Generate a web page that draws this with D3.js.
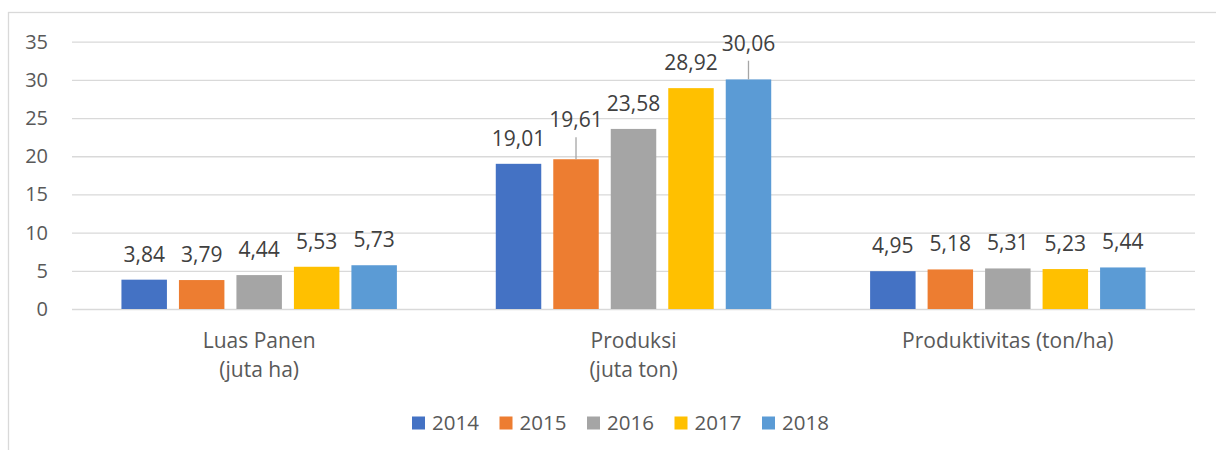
<!DOCTYPE html>
<html><head><meta charset="utf-8">
<script src="https://cdn.jsdelivr.net/npm/d3@7"></script>
<style>
html,body{margin:0;padding:0;background:#fff;}
svg{display:block;font-family:"Open Sans",sans-serif;}
</style></head>
<body><svg id="c" width="1216" height="450"></svg>
<script>
// ---- data ----
const categories = ["Luas Panen", "Produksi", "Produktivitas"];
const categoryLines = [["Luas Panen", "(juta ha)"], ["Produksi", "(juta ton)"], ["Produktivitas (ton/ha)"]];
const years = ["2014", "2015", "2016", "2017", "2018"];
const v2014 = [3.84, 19.01, 4.95];
const v2015 = [3.79, 19.61, 5.18];
const v2016 = [4.44, 23.58, 5.31];
const v2017 = [5.53, 28.92, 5.23];
const v2018 = [5.73, 30.06, 5.44];
const yTicks = [0, 5, 10, 15, 20, 25, 30, 35];

const seriesValues = [v2014, v2015, v2016, v2017, v2018];
const colors = ["#4472C4", "#ED7D31", "#A5A5A5", "#FFC000", "#5B9BD5"];
// labels pulled up with leader lines (series index, category index, extra lift px)
const leaderLabels = [{s: 1, c: 1, lift: 14}, {s: 4, c: 1, lift: 10.7}];

const svg = d3.select("#c");
const fmt = d3.formatLocale({decimal: ",", thousands: ".", grouping: [3], currency: ["", ""]}).format(".2f");

// chart area border
svg.append("rect").attr("x", 8.5).attr("y", 12.5).attr("width", 1400).attr("height", 600)
  .attr("fill", "none").attr("stroke", "#d9d9d9").attr("stroke-width", 1.3);

const pLeft = 72, pRight = 1195, pTop = 41.7, pBottom = 309;
const y = d3.scaleLinear().domain([0, 35]).range([pBottom, pTop]);
const x0 = d3.scaleBand().domain(categories).range([pLeft, pRight]).padding(0);
const x1 = d3.scaleBand().domain(years).range([0, x0.bandwidth()]).paddingInner(0.209).paddingOuter(0.86);

// axis + gridlines
const ax = svg.append("g").attr("transform", `translate(${pLeft},0)`)
  .call(d3.axisLeft(y).tickValues(yTicks).tickSizeInner(-(pRight - pLeft)).tickSizeOuter(0).tickPadding(24));
ax.select(".domain").remove();
ax.selectAll(".tick line").attr("stroke", "#d9d9d9").attr("stroke-width", 1.3);
ax.selectAll(".tick text").attr("fill", "#595959").style("font-size", "20px").style("font-family", "'Open Sans',sans-serif");

// bars
const data = [];
seriesValues.forEach((vals, s) => vals.forEach((v, c) => data.push({s, c, v})));
const g = svg.append("g");
g.selectAll("rect.bar").data(data).join("rect").attr("class", "bar")
  .attr("x", d => x0(categories[d.c]) + x1(years[d.s]))
  .attr("width", x1.bandwidth())
  .attr("y", d => y(d.v))
  .attr("height", d => y(0) - y(d.v))
  .attr("fill", d => colors[d.s]);

// labels
function lift(d) {
  const l = leaderLabels.find(o => o.s === d.s && o.c === d.c);
  return l ? l.lift : 0;
}
data.forEach(d => {
  const cx = x0(categories[d.c]) + x1(years[d.s]) + x1.bandwidth() / 2;
  const ly = y(d.v) - 18 - lift(d);
  if (lift(d) > 0) {
    svg.append("line").attr("x1", cx).attr("x2", cx).attr("y1", ly + 10).attr("y2", y(d.v))
      .attr("stroke", "#a6a6a6").attr("stroke-width", 1.3);
  }
  svg.append("text").attr("x", cx).attr("y", ly).attr("text-anchor", "middle")
    .attr("fill", "#404040").style("font-size", "21px").text(fmt(d.v));
});

// category labels
categories.forEach((c, i) => {
  const t = svg.append("text").attr("text-anchor", "middle").attr("fill", "#595959").style("font-size", "21px");
  categoryLines[i].forEach((line, j) => {
    t.append("tspan").attr("x", x0(c) + x0.bandwidth() / 2).attr("y", 348 + j * 28.5).text(line);
  });
});

// legend
const lg = svg.append("g").attr("transform", "translate(412,0)");
years.forEach((yr, i) => {
  const it = lg.append("g").attr("transform", `translate(${i * 87.5},0)`);
  it.append("rect").attr("x", 0).attr("y", 416.5).attr("width", 13).attr("height", 13).attr("fill", colors[i]);
  it.append("text").attr("x", 20).attr("y", 430).attr("fill", "#595959").style("font-size", "20.5px").text(yr);
});
</script></body></html>
